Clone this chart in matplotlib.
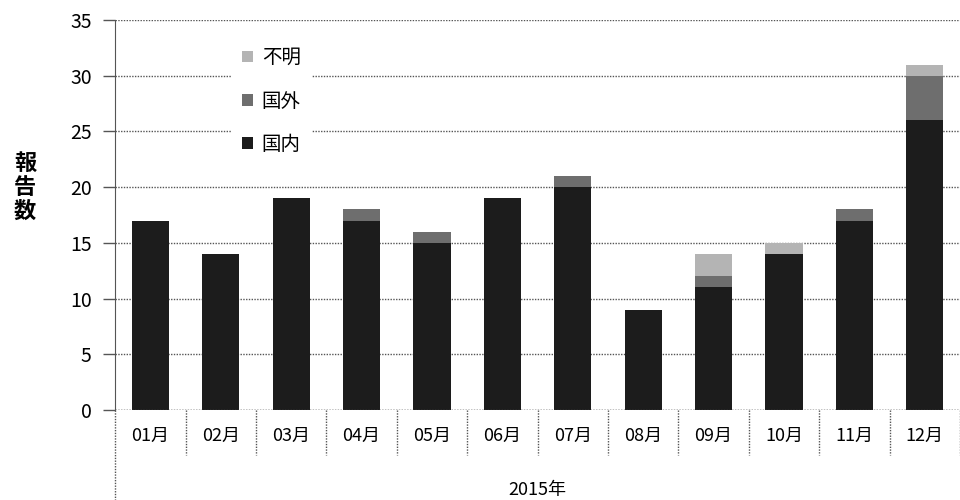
import matplotlib
matplotlib.use("Agg")
import matplotlib.pyplot as plt
import matplotlib.transforms as mtransforms
import numpy as np

plt.rcParams['font.family'] = ['Noto Sans CJK JP', 'DejaVu Sans']

months = ["01月", "02月", "03月", "04月", "05月", "06月",
          "07月", "08月", "09月", "10月", "11月", "12月"]
year_label = "2015年"
domestic = [17, 14, 19, 17, 15, 19, 20, 9, 11, 14, 17, 26]
overseas = [0, 0, 0, 1, 1, 0, 1, 0, 1, 0, 1, 4]
unknown = [0, 0, 0, 0, 0, 0, 0, 0, 2, 1, 0, 1]
series_names = ["国内", "国外", "不明"]
y_ticks = [0, 5, 10, 15, 20, 25, 30, 35]

colors = ["#1c1c1c", "#6e6e6e", "#b4b4b4"]
grid_color = "#555555"

fig = plt.figure(figsize=(9.6, 5.0), dpi=100)
ax = fig.add_axes([0.12, 0.18, 0.88, 0.78])

x = np.arange(len(months))
d = np.array(domestic)
o = np.array(overseas)
u = np.array(unknown)
w = 0.53
b1 = ax.bar(x, d, w, color=colors[0], label=series_names[0], zorder=3)
b2 = ax.bar(x, o, w, bottom=d, color=colors[1], label=series_names[1], zorder=3)
b3 = ax.bar(x, u, w, bottom=d + o, color=colors[2], label=series_names[2], zorder=3)

ax.set_xlim(-0.5, len(months) - 0.5)
ax.set_ylim(0, 35)
ax.set_yticks(y_ticks)
ax.yaxis.grid(True, linestyle=(0, (1, 1)), color=grid_color, linewidth=1.0, zorder=0)
ax.tick_params(axis='y', length=9, width=1.0, color=grid_color, labelsize=14, pad=8)
ax.tick_params(axis='x', length=0, labelsize=13, pad=12)
ax.set_xticks(x)
ax.set_xticklabels(months)

for s in ["top", "right", "bottom"]:
    ax.spines[s].set_visible(False)
ax.spines["left"].set_linestyle((0, (1, 1)))
ax.spines["left"].set_color(grid_color)

# baseline at zero
ax.axhline(0, color=grid_color, linestyle=(0, (1, 1)), linewidth=1.0, zorder=4)

# category separators below the axis
trans = mtransforms.blended_transform_factory(ax.transData, ax.transAxes)
for b in np.arange(-0.5, len(months) - 0.4, 1.0):
    y_end = -0.26 if b == -0.5 else -0.115
    ax.plot([b, b], [0, y_end], transform=trans, color=grid_color,
            linestyle=(0, (1, 1)), linewidth=1.0, clip_on=False)

ax.text(0.5, -0.205, year_label, transform=ax.transAxes, ha='center',
        va='center', fontsize=13)

fig.text(0.026, 0.625, "報\n告\n数", ha='center', va='center', fontsize=16,
         fontweight='bold', linespacing=1.05)

leg = ax.legend(handles=[b3, b2, b1], labels=[series_names[2], series_names[1], series_names[0]],
                loc='upper left', bbox_to_anchor=(0.125, 0.985), frameon=True,
                fontsize=14, handlelength=0.55, handleheight=0.55, handletextpad=0.45,
                labelspacing=1.15, borderpad=0.6, fancybox=False)
leg.get_frame().set_edgecolor('none')
leg.get_frame().set_facecolor('white')
leg.get_frame().set_alpha(1.0)

fig.savefig("out.png", dpi=100)
